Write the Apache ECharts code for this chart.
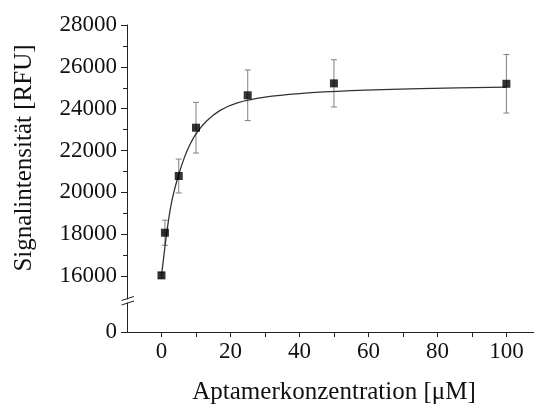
<!DOCTYPE html>
<html>
<head>
<meta charset="utf-8">
<script src="https://cdn.jsdelivr.net/npm/echarts@6/dist/echarts.min.js"></script>
<style>
  html, body { margin: 0; padding: 0; background: #fff; }
  #chart { width: 534px; height: 405px; }
</style>
</head>
<body>
<div id="chart"></div>
<script>
// measured points
const concX = [0, 1, 5, 10, 25, 50, 100];
const signal = [16030, 18070, 20780, 23090, 24640, 25210, 25190];
const signalErr = [130, 600, 810, 1210, 1210, 1130, 1400];

// fit curve
const curveX = [0, 0.75, 1.5, 2.5, 3.5, 5, 6.5, 8, 10, 13, 17, 22, 30, 40, 55, 75, 100];
const curveY = [16020, 17050, 18050, 19150, 19950, 20850, 21600, 22200, 22800, 23400, 23920, 24280, 24550, 24720, 24860, 24960, 25030];

const xLabels = [0, 20, 40, 60, 80, 100];
const xTicks = [0, 10, 20, 30, 40, 50, 60, 70, 80, 90, 100];

const FONT = 'Liberation Serif';
const AX = '#222';

const chart = echarts.init(document.getElementById('chart'));

const hiddenX = (gi) => ({
  gridIndex: gi, type: 'value', min: -10, max: 108, show: false
});

const plain = (v) => String(v);

const option = {
  animation: false,
  grid: [
    { left: 127, right: 0, top: 25, height: 251 },   // 16000 - 28000
    { left: 127, right: 0, top: 276, height: 23 },   // axis stub above the break
    { left: 127, right: 0, top: 303, height: 29 }    // 0 part
  ],
  xAxis: [
    hiddenX(0),
    hiddenX(1),
    {
      gridIndex: 2, type: 'value', min: -10, max: 108,
      axisLine: { onZero: false, lineStyle: { color: AX, width: 1 } },
      axisTick: { customValues: xTicks, length: 5, lineStyle: { color: AX } },
      axisLabel: {
        customValues: xLabels, margin: 8, formatter: plain,
        fontFamily: FONT, fontSize: 23, color: '#111'
      },
      splitLine: { show: false }
    }
  ],
  yAxis: [
    {
      gridIndex: 0, type: 'value', min: 16000, max: 28000, interval: 2000,
      axisLine: { show: true, onZero: false, lineStyle: { color: AX, width: 1 } },
      axisTick: { show: true, length: 6, lineStyle: { color: AX } },
      minorTick: { show: true, splitNumber: 2, length: 4, lineStyle: { color: AX } },
      axisLabel: { margin: 10, formatter: plain, fontFamily: FONT, fontSize: 23, color: '#111' },
      splitLine: { show: false }
    },
    {
      gridIndex: 1, type: 'value', min: 0, max: 1,
      axisLine: { show: true, onZero: false, lineStyle: { color: AX, width: 1 } },
      axisTick: { show: false },
      axisLabel: { show: false },
      splitLine: { show: false }
    },
    {
      gridIndex: 2, type: 'value', min: 0, max: 1400,
      axisLine: { show: true, onZero: false, lineStyle: { color: AX, width: 1 } },
      axisTick: { customValues: [0], length: 6, lineStyle: { color: AX } },
      axisLabel: { customValues: [0], margin: 10, formatter: plain, fontFamily: FONT, fontSize: 23, color: '#111' },
      splitLine: { show: false }
    }
  ],
  series: [
    {
      type: 'custom',
      xAxisIndex: 0, yAxisIndex: 0,
      data: concX.map((x, i) => [x, signal[i] - signalErr[i], signal[i] + signalErr[i]]),
      renderItem: (params, api) => {
        const lo = api.coord([api.value(0), api.value(1)]);
        const hi = api.coord([api.value(0), api.value(2)]);
        const w = 3;
        const st = { stroke: '#808080', lineWidth: 1 };
        return {
          type: 'group',
          children: [
            { type: 'line', shape: { x1: lo[0], y1: lo[1], x2: hi[0], y2: hi[1] }, style: st },
            { type: 'line', shape: { x1: lo[0] - w, y1: lo[1], x2: lo[0] + w, y2: lo[1] }, style: st },
            { type: 'line', shape: { x1: hi[0] - w, y1: hi[1], x2: hi[0] + w, y2: hi[1] }, style: st }
          ]
        };
      },
      z: 1
    },
    {
      type: 'line',
      xAxisIndex: 0, yAxisIndex: 0,
      data: curveX.map((x, i) => [x, curveY[i]]),
      showSymbol: false,
      smooth: 0.3,
      lineStyle: { color: '#333', width: 1.3 },
      z: 2
    },
    {
      type: 'scatter',
      xAxisIndex: 0, yAxisIndex: 0,
      data: concX.map((x, i) => [x, signal[i]]),
      symbol: 'rect',
      symbolSize: 8,
      itemStyle: { color: '#000' },
      z: 3
    }
  ],
  graphic: [
    {
      type: 'text', x: 24, y: 158, rotation: Math.PI / 2,
      style: {
        text: 'Signalintensität [RFU]', font: '25px "Liberation Serif"',
        fill: '#111', align: 'center', verticalAlign: 'middle'
      }
    },
    {
      type: 'text', x: 334, y: 392,
      style: {
        text: 'Aptamerkonzentration [μM]', font: '25px "Liberation Serif"',
        fill: '#111', align: 'center', verticalAlign: 'middle'
      }
    },
    // axis break marks
    { type: 'line', shape: { x1: 121.5, y1: 300.5, x2: 134, y2: 296.5 }, style: { stroke: AX, lineWidth: 1 } },
    { type: 'line', shape: { x1: 121.5, y1: 305, x2: 134, y2: 301 }, style: { stroke: AX, lineWidth: 1 } }
  ]
};

chart.setOption(option);
</script>
</body>
</html>
